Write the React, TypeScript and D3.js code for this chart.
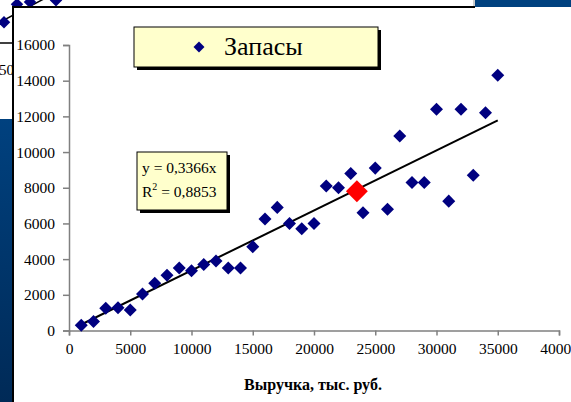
import React, { useEffect, useRef } from 'react';
import * as d3 from 'd3';

// Выручка (тыс. руб.) и запасы
const revenue = [
  1000, 2000, 3000, 4000, 5000, 6000, 7000, 8000, 9000, 10000,
  11000, 12000, 13000, 14000, 15000, 16000, 17000, 18000, 19000, 20000,
  21000, 22000, 23000, 24000, 25000, 26000, 27000, 28000, 29000, 30000,
  31000, 32000, 33000, 34000, 35000,
];
const stocks = [
  300, 500, 1250, 1280, 1150, 2050, 2650, 3100, 3500, 3350,
  3700, 3900, 3500, 3500, 4700, 6250, 6900, 6000, 5700, 6000,
  8100, 8000, 8800, 6600, 9100, 6800, 10900, 8300, 8300, 12400,
  7250, 12400, 8700, 12200, 14300,
];
// highlighted point (red)
const highlight = { x: 23500, y: 7800 };
// trendline ends, y = 0,3366x
const trendX = [1000, 35000];
const trendY = [337, 11781];

const xTicks = [0, 5000, 10000, 15000, 20000, 25000, 30000, 35000, 40000];
const yTicks = [0, 2000, 4000, 6000, 8000, 10000, 12000, 14000, 16000];

const legendLabel = 'Запасы';
const xTitle = 'Выручка, тыс. руб.';
const eqLine = 'y = 0,3366x';
const r2Value = '0,8853';

// fragment of the slide chart lying behind
const bgX = [0, 1, 2, 4];
const bgY = [1.5, 4.6, 5.0, 5.3];

const W = 571;
const H = 402;
const FONT = '"Liberation Serif", "Times New Roman", serif';

const App = () => {
  const ref = useRef<SVGSVGElement>(null);

  useEffect(() => {
    const svg = d3.select(ref.current);
    svg.selectAll('*').remove();

    const defs = svg.append('defs');
    const grad = defs.append('linearGradient')
      .attr('id', 'slideBlue')
      .attr('x1', 0).attr('y1', 0).attr('x2', 0).attr('y2', 1);
    grad.append('stop').attr('offset', '0%').attr('stop-color', '#00417f');
    grad.append('stop').attr('offset', '100%').attr('stop-color', '#002a57');

    // slide background
    svg.append('rect').attr('width', W).attr('height', H).attr('fill', '#ffffff');
    svg.append('rect').attr('x', 0).attr('y', 119).attr('width', 13).attr('height', H - 119)
      .attr('fill', 'url(#slideBlue)');
    svg.append('rect').attr('x', 475).attr('y', 0).attr('width', W - 475).attr('height', 7)
      .attr('fill', '#00417f');
    svg.append('line').attr('x1', 474).attr('x2', 474).attr('y1', 0).attr('y2', 7)
      .attr('stroke', '#999').attr('stroke-width', 1);
    svg.append('line').attr('x1', 0).attr('x2', 13).attr('y1', 43).attr('y2', 43)
      .attr('stroke', '#000').attr('stroke-width', 1.5);
    svg.append('text').attr('x', -1).attr('y', 75).attr('font-family', FONT)
      .attr('font-size', 15).attr('fill', '#000').text('500');

    const bx = d3.scaleLinear().domain([0, 4]).range([4, 56]);
    const by = d3.scaleLinear().domain([0, 5]).range([31, 2]);
    svg.append('line')
      .attr('x1', bx(-0.3)).attr('y1', 22).attr('x2', bx(3.2)).attr('y2', -2)
      .attr('stroke', '#000').attr('stroke-width', 1.5);
    svg.append('g').selectAll('path')
      .data(bgX.map((d, i) => [d, bgY[i]]))
      .enter().append('path')
      .attr('d', d3.symbol(d3.symbolDiamond2, 100)())
      .attr('transform', d => `translate(${bx(d[0])},${by(d[1])})`)
      .attr('fill', '#000080');

    // chart panel
    svg.append('rect').attr('x', 13).attr('y', 7).attr('width', W).attr('height', H)
      .attr('fill', '#ffffff');
    svg.append('line').attr('x1', 12).attr('x2', 475).attr('y1', 7).attr('y2', 7)
      .attr('stroke', '#000').attr('stroke-width', 2);
    svg.append('line').attr('x1', 13).attr('x2', 13).attr('y1', 7).attr('y2', H)
      .attr('stroke', '#000').attr('stroke-width', 2);

    const x = d3.scaleLinear().domain([0, 40000]).range([69, 559]);
    const y = d3.scaleLinear().domain([0, 16000]).range([330.5, 45]);

    const axisColor = '#808080';
    const xAxis = svg.append('g')
      .attr('transform', `translate(0,${y(0)})`)
      .call(d3.axisBottom(x).tickValues(xTicks).tickSize(5).tickPadding(7).tickFormat(d3.format('d')));
    const yAxis = svg.append('g')
      .attr('transform', `translate(${x(0)},0)`)
      .call(d3.axisLeft(y).tickValues(yTicks).tickSize(6).tickPadding(8).tickFormat(d3.format('d')));
    [xAxis, yAxis].forEach(a => {
      a.select('.domain').attr('stroke', axisColor).attr('stroke-width', 1.5);
      a.selectAll('.tick line').attr('stroke', axisColor).attr('stroke-width', 1.5);
      a.selectAll('.tick text').attr('fill', '#000').attr('font-family', FONT).attr('font-size', 15.5);
    });

    // axis title
    svg.append('text')
      .attr('x', 313).attr('y', 390)
      .attr('text-anchor', 'middle')
      .attr('font-family', FONT).attr('font-size', 16).attr('font-weight', 'bold')
      .text(xTitle);

    // trendline
    svg.append('line')
      .attr('x1', x(trendX[0])).attr('y1', y(trendY[0]))
      .attr('x2', x(trendX[1])).attr('y2', y(trendY[1]))
      .attr('stroke', '#000').attr('stroke-width', 2);

    // points
    const diamond = d3.symbol(d3.symbolSquare, 85)();
    svg.append('g').selectAll('path')
      .data(revenue.map((v, i) => ({ x: v, y: stocks[i] })))
      .enter().append('path')
      .attr('d', diamond)
      .attr('transform', d => `translate(${x(d.x)},${y(d.y)}) rotate(45)`)
      .attr('fill', '#000080');

    svg.append('path')
      .attr('d', d3.symbol(d3.symbolSquare, 240)())
      .attr('transform', `translate(${x(highlight.x)},${y(highlight.y)}) rotate(45)`)
      .attr('fill', '#ff0000');

    // equation box
    const eq = svg.append('g').attr('transform', 'translate(137,152)');
    eq.append('rect').attr('x', 3).attr('y', 3).attr('width', 90).attr('height', 58).attr('fill', '#000');
    eq.append('rect').attr('width', 90).attr('height', 58)
      .attr('fill', '#ffffcc').attr('stroke', '#000').attr('stroke-width', 1);
    eq.append('text').attr('x', 5).attr('y', 21)
      .attr('font-family', FONT).attr('font-size', 15.5).text(eqLine);
    const r2 = eq.append('text').attr('x', 5).attr('y', 45)
      .attr('font-family', FONT).attr('font-size', 15.5);
    r2.append('tspan').text('R');
    r2.append('tspan').attr('dy', -7).attr('font-size', 10).text('2');
    r2.append('tspan').attr('dy', 7).text(` = ${r2Value}`);

    // legend
    const lg = svg.append('g').attr('transform', 'translate(134,27)');
    lg.append('rect').attr('x', 3).attr('y', 3).attr('width', 244).attr('height', 40).attr('fill', '#000');
    lg.append('rect').attr('width', 244).attr('height', 40)
      .attr('fill', '#ffffcc').attr('stroke', '#000').attr('stroke-width', 1);
    lg.append('path')
      .attr('d', d3.symbol(d3.symbolSquare, 60)())
      .attr('transform', 'translate(65,20) rotate(45)')
      .attr('fill', '#000080');
    lg.append('text').attr('x', 90).attr('y', 28)
      .attr('font-family', FONT).attr('font-size', 26).text(legendLabel);
  }, []);

  return (
    <svg ref={ref} width={W} height={H} style={{ position: 'absolute', left: 0, top: 0, display: 'block' }} />
  );
};

export default App;
